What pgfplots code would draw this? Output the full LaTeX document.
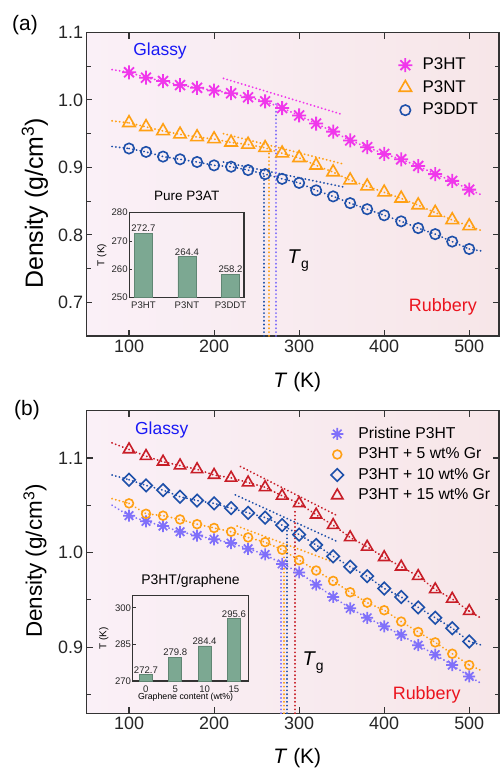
\documentclass[border=0pt]{standalone}
\usepackage{pgfplots}
\pgfplotsset{compat=1.18}
\usepackage{pgfplotstable}
\usepackage{fontspec}
\setmainfont{Liberation Sans}

\definecolor{cmag}{RGB}{240,55,235}
\definecolor{corg}{RGB}{255,160,20}
\definecolor{cblu}{RGB}{30,80,170}
\definecolor{clav}{RGB}{128,112,250}
\definecolor{cred}{RGB}{200,30,40}
\definecolor{cglass}{RGB}{25,25,245}
\definecolor{crubb}{RGB}{235,20,30}
\definecolor{bgl}{RGB}{250,240,247}
\definecolor{bgr}{RGB}{247,230,232}
\definecolor{barg}{RGB}{124,168,146}
\definecolor{bare}{RGB}{96,134,115}

\pgfdeclareplotmark{ast8}{%
  \pgfpathmoveto{\pgfqpoint{-\pgfplotmarksize}{0pt}}\pgfpathlineto{\pgfqpoint{\pgfplotmarksize}{0pt}}%
  \pgfpathmoveto{\pgfqpoint{0pt}{-\pgfplotmarksize}}\pgfpathlineto{\pgfqpoint{0pt}{\pgfplotmarksize}}%
  \pgfpathmoveto{\pgfqpoint{-0.7071\pgfplotmarksize}{-0.7071\pgfplotmarksize}}\pgfpathlineto{\pgfqpoint{0.7071\pgfplotmarksize}{0.7071\pgfplotmarksize}}%
  \pgfpathmoveto{\pgfqpoint{-0.7071\pgfplotmarksize}{0.7071\pgfplotmarksize}}\pgfpathlineto{\pgfqpoint{0.7071\pgfplotmarksize}{-0.7071\pgfplotmarksize}}%
  \pgfusepathqstroke}

\pgfplotstableread{
T    P3HT  P3NT  P3DDT
100  1.041 0.966 0.928
120  1.033 0.960 0.923
140  1.028 0.954 0.916
160  1.022 0.949 0.912
180  1.018 0.945 0.908
200  1.014 0.942 0.903
220  1.010 0.937 0.901
240  1.004 0.934 0.896
260  0.998 0.929 0.890
280  0.988 0.921 0.883
300  0.977 0.914 0.877
320  0.965 0.903 0.866
340  0.953 0.893 0.857
360  0.940 0.881 0.847
380  0.930 0.872 0.838
400  0.920 0.863 0.829
420  0.912 0.854 0.820
440  0.902 0.844 0.810
460  0.890 0.833 0.801
480  0.880 0.822 0.790
500  0.867 0.813 0.779
}\dataA

\pgfplotstableread{
T    Pri   G5    G10   G15
100  1.039 1.052 1.077 1.109
120  1.033 1.041 1.071 1.102
140  1.028 1.039 1.066 1.096
160  1.022 1.035 1.059 1.092
180  1.018 1.030 1.055 1.088
200  1.014 1.026 1.052 1.082
220  1.010 1.022 1.047 1.079
240  1.004 1.016 1.042 1.074
260  0.998 1.011 1.037 1.069
280  0.988 1.003 1.029 1.060
300  0.979 0.992 1.019 1.052
320  0.966 0.981 1.008 1.040
340  0.953 0.970 0.996 1.029
360  0.941 0.958 0.985 1.016
380  0.931 0.947 0.975 1.006
400  0.922 0.939 0.962 0.995
420  0.913 0.927 0.953 0.985
440  0.902 0.916 0.942 0.975
460  0.892 0.905 0.931 0.961
480  0.881 0.893 0.920 0.951
500  0.869 0.881 0.906 0.938
}\dataB

\pgfplotsset{
  lnd/.style={forget plot, line width=1.9bp, dash pattern=on 0.2bp off 3.6bp, line cap=round, mark=none},
  mainax/.style={
    scale only axis, width=412.5bp, xmin=50, xmax=535,
    axis line style={line width=1.3bp, black!80},
    tick style={line width=1.1bp, black!80},
    major tick length=6bp, minor tick length=4.5bp, tick align=inside,
    xtick={100,200,300,400,500},
    tick label style={font=\fontsize{18}{18}\selectfont, black!85},
    /pgf/number format/assume math mode=true,
    yticklabel style={/pgf/number format/.cd, fixed, fixed zerofill, precision=1},
    axis background/.style={left color=bgl, right color=bgr},
    xlabel={\textit{T} (K)},
    xlabel style={at={(axis description cs:0.511,-0.1506)}, anchor=center, font=\fontsize{21}{21}\selectfont},
    legend cell align=left,
  },
  insetax/.style={
    scale only axis, width=115bp,
    axis line style={line width=1.1bp, black!80},
    tick style={line width=0.8bp, black!80},
    major tick length=3bp, tick align=inside, ytick pos=left,
    xtick style={draw=none},
    tick label style={font=\fontsize{9.6}{9.6}\selectfont, black!85},
    xticklabel style={inner sep=1.5bp},
    yticklabel style={inner sep=1.5bp},
    /pgf/number format/assume math mode=true,
    ybar, bar shift=0pt,
    ylabel={T (K)},
    ylabel style={anchor=center, font=\fontsize{10}{10}\selectfont},
    nodes near coords={\pgfmathprintnumber[fixed,fixed zerofill,precision=1]{\pgfplotspointmeta}},
    nodes near coords style={font=\fontsize{9.6}{9.6}\selectfont, inner sep=1bp, black!85},
  },
}

\begin{document}
\begin{tikzpicture}
\path[use as bounding box] (0bp,0bp) rectangle (502bp,-768bp);
\node[font=\fontsize{21}{21}\selectfont] at (25bp,-25bp) {(a)};
\node[font=\fontsize{21}{21}\selectfont] at (27bp,-410bp) {(b)};

% ---------------- panel (a)
\begin{axis}[mainax, at={(86.5bp,-336bp)}, anchor=south west, height=303.5bp,
  ymin=0.65, ymax=1.1, ytick={0.7,0.8,0.9,1.0,1.1}, minor ytick={0.75,0.85,0.95,1.05},
  ylabel={Density (g/cm\textsuperscript{3})},
  ylabel style={at={(axis description cs:-0.125,0.437)}, anchor=center, font=\fontsize{25}{25}\selectfont},
  legend style={at={(0.755,0.921)}, anchor=north west, draw=none, fill=none, inner sep=0pt,
    font=\fontsize{17}{17}\selectfont, nodes={inner sep=1bp, text height=12bp, text depth=3bp}, row sep=5.5bp},
  legend image code/.code={\draw[#1] plot coordinates {(0bp,0bp)}; \path (-7bp,0bp) (16bp,0bp);},
]
% connecting / fit lines
\addplot[lnd, cmag] table[x=T,y=P3HT]{\dataA};
\addplot[lnd, cmag] coordinates {(80,1.045) (100,1.041)};
\addplot[lnd, cmag] coordinates {(500,0.867) (515,0.859)};
\addplot[lnd, cmag] coordinates {(211,1.032) (352,0.978)};
\addplot[lnd, corg] table[x=T,y=P3NT]{\dataA};
\addplot[lnd, corg] coordinates {(80,0.969) (100,0.966)};
\addplot[lnd, corg] coordinates {(500,0.813) (515,0.806)};
\addplot[lnd, corg] coordinates {(211,0.950) (352,0.905)};
\addplot[lnd, cblu] table[x=T,y=P3DDT]{\dataA};
\addplot[lnd, cblu] coordinates {(80,0.931) (100,0.928)};
\addplot[lnd, cblu] coordinates {(500,0.779) (515,0.776)};
\addplot[lnd, cblu] coordinates {(211,0.908) (352,0.871)};
% Tg lines
\addplot[lnd, clav] coordinates {(272.7,0.65) (272.7,0.997)};
\addplot[lnd, corg] coordinates {(264.4,0.65) (264.4,0.922)};
\addplot[lnd, cblu] coordinates {(258.2,0.65) (258.2,0.888)};
% markers
\addplot[only marks, mark=ast8, mark size=7bp, cmag, mark options={line width=1.8bp}] table[x=T,y=P3HT]{\dataA};
\addlegendentry{P3HT}
\addplot[only marks, mark=triangle, mark size=7.2bp, corg, mark options={line width=1.6bp}] table[x=T,y=P3NT]{\dataA};
\addlegendentry{P3NT}
\addplot[only marks, mark=o, mark size=5.2bp, cblu, mark options={line width=1.6bp}] table[x=T,y=P3DDT]{\dataA};
\addlegendentry{P3DDT}
\node[font=\fontsize{17.5}{17.5}\selectfont, text=cglass] at (axis cs:136.5,1.072) {Glassy};
\node[font=\fontsize{18}{18}\selectfont, text=crubb] at (axis cs:469,0.693) {Rubbery};
\node at (axis cs:299,0.762) {\fontsize{20}{20}\selectfont\textit{T}\raisebox{-5bp}{\fontsize{14}{14}\selectfont g}};
\end{axis}

% inset (a)
\begin{axis}[insetax, at={(129.3bp,-297.3bp)}, anchor=south west, width=114.7bp, height=84.6bp,
  xmin=-0.323, xmax=2.31, ymin=250, ymax=280, ytick={250,260,270,280},
  xtick={0,1,2}, xticklabels={P3HT,P3NT,P3DDT}, bar width=18bp,
  ylabel style={at={(axis description cs:-0.24,0.5)}},
  title={Pure P3AT}, title style={at={(axis description cs:0.5,1)}, anchor=base, yshift=6bp, font=\fontsize{13.6}{13.6}\selectfont},
]
\addplot[fill=barg, draw=bare, line width=0.6bp] coordinates {(0,272.7) (1,264.4) (2,258.2)};
\end{axis}

% ---------------- panel (b)
\begin{axis}[mainax, at={(86.5bp,-713.3bp)}, anchor=south west, height=302.6bp,
  ymin=0.83, ymax=1.15, ytick={0.9,1.0,1.1}, minor ytick={0.85,0.95,1.05},
  ylabel={Density (g/cm\textsuperscript{3})},
  ylabel style={at={(axis description cs:-0.125,0.503)}, anchor=center, font=\fontsize{22.5}{22.5}\selectfont},
  xlabel style={at={(axis description cs:0.511,-0.1477)}},
  legend style={at={(0.59,0.951)}, anchor=north west, draw=none, fill=none, inner sep=0pt,
    font=\fontsize{15.8}{15.8}\selectfont, nodes={inner sep=1bp, text height=11.5bp, text depth=3bp}, row sep=4bp},
  legend image code/.code={\draw[#1] plot coordinates {(0bp,0bp)}; \path (-7bp,0bp) (20bp,0bp);},
]
\addplot[lnd, clav] table[x=T,y=Pri]{\dataB};
\addplot[lnd, clav] coordinates {(80,1.050) (100,1.039)};
\addplot[lnd, clav] coordinates {(500,0.869) (515,0.861)};
\addplot[lnd, corg] table[x=T,y=G5]{\dataB};
\addplot[lnd, corg] coordinates {(80,1.057) (100,1.052)};
\addplot[lnd, corg] coordinates {(500,0.881) (515,0.875)};
\addplot[lnd, corg] coordinates {(227,1.028) (340,0.990)};
\addplot[lnd, cblu] table[x=T,y=G10]{\dataB};
\addplot[lnd, cblu] coordinates {(80,1.082) (100,1.077)};
\addplot[lnd, cblu] coordinates {(500,0.906) (515,0.902)};
\addplot[lnd, cblu] coordinates {(225,1.061) (344,1.012)};
\addplot[lnd, cred] table[x=T,y=G15]{\dataB};
\addplot[lnd, cred] coordinates {(80,1.116) (100,1.109)};
\addplot[lnd, cred] coordinates {(500,0.938) (515,0.930)};
\addplot[lnd, cred] coordinates {(231,1.091) (346,1.0385)};
% Tg lines
\addplot[lnd, clav] coordinates {(279,0.83) (279,0.990)};
\addplot[lnd, corg] coordinates {(282.5,0.83) (282.5,1.001)};
\addplot[lnd, cblu] coordinates {(285.5,0.83) (285.5,1.027)};
\addplot[lnd, cred] coordinates {(295.6,0.83) (295.6,1.046)};
% markers
\addplot[only marks, mark=ast8, mark size=6bp, clav, mark options={line width=1.7bp}] table[x=T,y=Pri]{\dataB};
\addlegendentry{Pristine P3HT}
\addplot[only marks, mark=o, mark size=4.4bp, corg, mark options={line width=1.6bp}] table[x=T,y=G5]{\dataB};
\addlegendentry{P3HT + 5 wt\% Gr}
\addplot[only marks, mark=square, mark size=4.4bp, cblu, mark options={line width=1.6bp, rotate=45}] table[x=T,y=G10]{\dataB};
\addlegendentry{P3HT + 10 wt\% Gr}
\addplot[only marks, mark=triangle, mark size=6.5bp, cred, mark options={line width=1.6bp}] table[x=T,y=G15]{\dataB};
\addlegendentry{P3HT + 15 wt\% Gr}
\node[font=\fontsize{17.5}{17.5}\selectfont, text=cglass] at (axis cs:138.5,1.130) {Glassy};
\node[font=\fontsize{18}{18}\selectfont, text=crubb] at (axis cs:450,0.850) {Rubbery};
\node at (axis cs:316.5,0.884) {\fontsize{20}{20}\selectfont\textit{T}\raisebox{-5bp}{\fontsize{14}{14}\selectfont g}};
\end{axis}

% inset (b)
\begin{axis}[insetax, at={(132.7bp,-681bp)}, anchor=south west, width=115.6bp, height=85.3bp,
  xmin=-0.45, xmax=3.49, ymin=270, ymax=305, ytick={270,285,300},
  xtick={0,1,2,3}, xticklabels={0,5,10,15}, bar width=13bp,
  ylabel style={at={(axis description cs:-0.25,0.5)}},
  xlabel={Graphene content (wt\%)},
  xlabel style={at={(axis description cs:0.458,-0.196)}, anchor=center, font=\fontsize{8.8}{8.8}\selectfont},
  title={P3HT/graphene}, title style={at={(axis description cs:0.5,1)}, anchor=base, yshift=5.7bp, font=\fontsize{14}{14}\selectfont},
]
\addplot[fill=barg, draw=bare, line width=0.6bp] coordinates {(0,272.7) (1,279.8) (2,284.4) (3,295.6)};
\end{axis}
\end{tikzpicture}
\end{document}
